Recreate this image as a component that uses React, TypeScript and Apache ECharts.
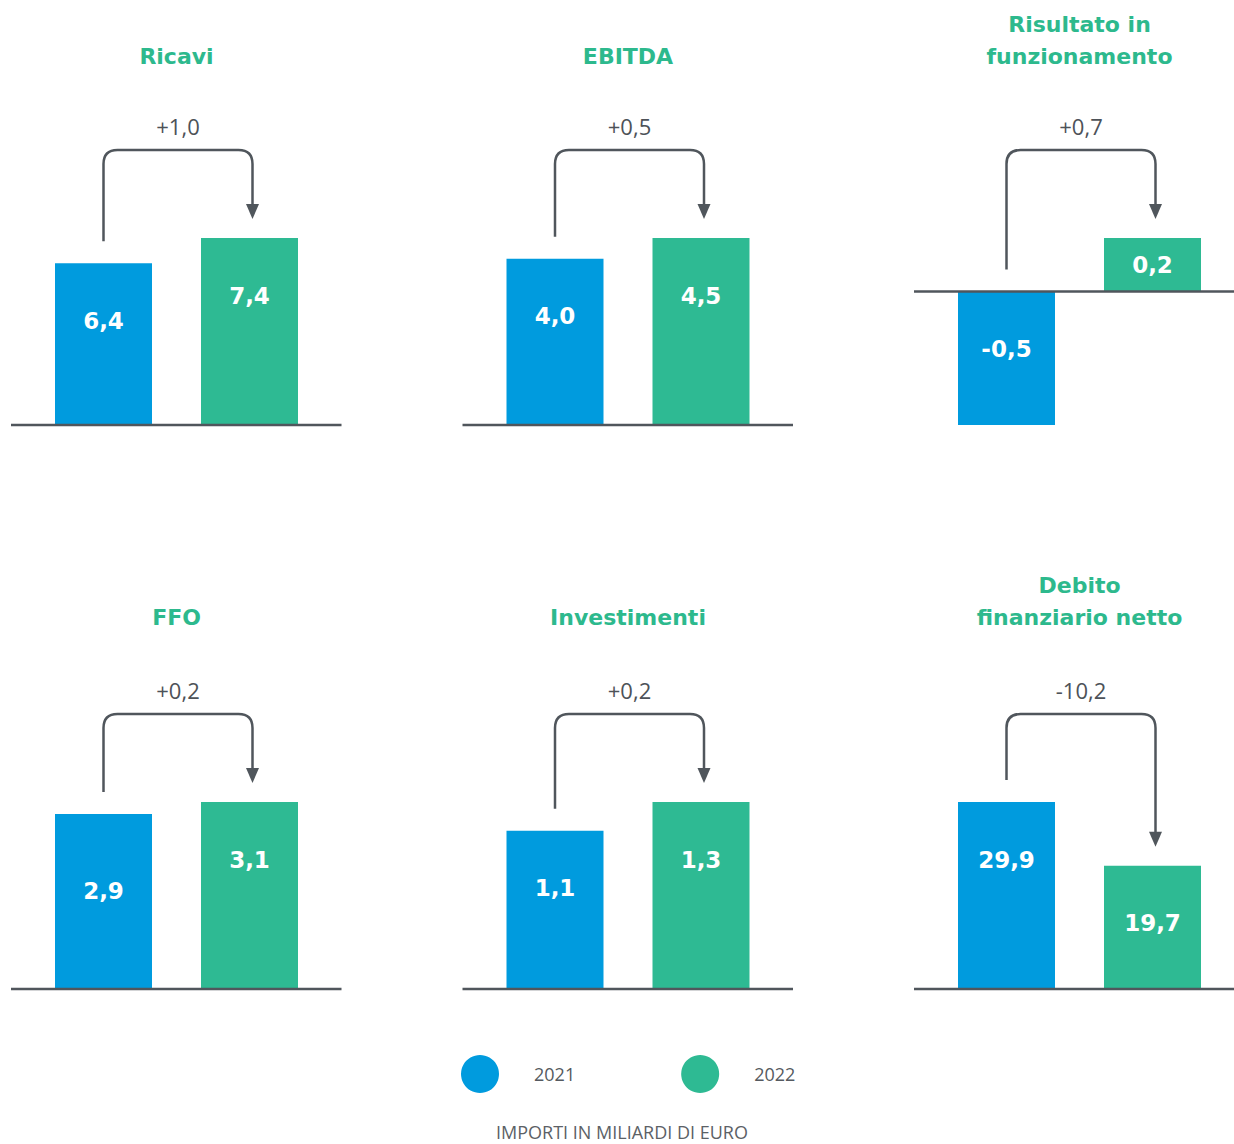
import React, { useEffect, useRef } from "react";
import * as echarts from "echarts";

// ---- data ----
const years = ["2021", "2022"];
const titles = [
  "Ricavi",
  "EBITDA",
  "Risultato in\nfunzionamento",
  "FFO",
  "Investimenti",
  "Debito\nfinanziario netto",
];
const values2021 = [6.4, 4.0, -0.5, 2.9, 1.1, 29.9];
const values2022 = [7.4, 4.5, 0.2, 3.1, 1.3, 19.7];
const deltas = ["+1,0", "+0,5", "+0,7", "+0,2", "+0,2", "-10,2"];
const unitNote = "IMPORTI IN MILIARDI DI EURO";

// ---- style / layout ----
const BLUE = "#009BDE";
const GREEN = "#2EBA93";
const TITLE_GREEN = "#2DB98D";
const DARK = "#50565C";
const FONT = "'Open Sans', 'Noto Sans', sans-serif";
const BOLD_FONT = "'DejaVu Sans', 'Open Sans', sans-serif";
const COLS = [176.5, 628, 1079.5];
const ROW_TOP = [238, 802];
const SPAN = 187;
const TITLE_Y = [56, 617];

const fmt = (v: number) => v.toFixed(1).replace(".", ",");

export default function App() {
  const ref = useRef<HTMLDivElement>(null);

  useEffect(() => {
    if (!ref.current) return;
    const chart = echarts.init(ref.current, undefined, { renderer: "svg" });

    const grids: any[] = [];
    const xAxes: any[] = [];
    const yAxes: any[] = [];
    const series: any[] = [];

    titles.forEach((_, i) => {
      const col = i % 3;
      const row = Math.floor(i / 3);
      const v1 = values2021[i];
      const v2 = values2022[i];
      grids.push({
        left: COLS[col] - 146,
        width: 292,
        top: ROW_TOP[row],
        height: SPAN,
        containLabel: false,
      });
      xAxes.push({
        type: "category",
        gridIndex: i,
        data: years,
        show: false,
      });
      yAxes.push({
        type: "value",
        gridIndex: i,
        min: Math.min(0, v1, v2),
        max: Math.max(0, v1, v2),
        show: false,
      });
      const baseLabel = {
        show: true,
        position: "insideTop",
        distance: 46,
        color: "#fff",
        fontSize: 23,
        fontWeight: "bold",
        fontFamily: BOLD_FONT,
        formatter: (p: any) => fmt(p.value),
      };
      const label1: any = { ...baseLabel };
      const label2: any = { ...baseLabel };
      if (i === 3) label1.distance = 65;
      if (i === 2) {
        label2.position = "inside";
      }
      series.push({
        type: "bar",
        name: years[0],
        xAxisIndex: i,
        yAxisIndex: i,
        barWidth: 97,
        barGap: "-100%",
        itemStyle: { color: BLUE },
        label: label1,
        data: [v1, "-"],
      });
      series.push({
        type: "bar",
        name: years[1],
        xAxisIndex: i,
        yAxisIndex: i,
        barWidth: 97,
        barGap: "-100%",
        itemStyle: { color: GREEN },
        label: label2,
        data: ["-", v2],
      });
      series.push({
        type: "custom",
        xAxisIndex: i,
        yAxisIndex: i,
        clip: false,
        silent: true,
        z: 5,
        encode: { x: 0, y: 1 },
        data: [[0, v1, v2]],
        renderItem: (params: any, api: any) => {
          const a = api.coord([0, Math.max(0, api.value(1))]);
          const b = api.coord([1, Math.max(0, api.value(2))]);
          const hy = params.coordSys.y - 88;
          const x1 = a[0];
          const x2 = b[0] + 3;
          const y1 = a[1] - 22;
          const tip = b[1] - 19;
          const r = 14;
          const ah = 15;
          const pathData =
            `M ${x1} ${y1} L ${x1} ${hy + r} Q ${x1} ${hy} ${x1 + r} ${hy} ` +
            `L ${x2 - r} ${hy} Q ${x2} ${hy} ${x2} ${hy + r} L ${x2} ${tip - ah + 2}`;
          return {
            type: "group",
            children: [
              {
                type: "path",
                shape: { pathData },
                style: { fill: "none", stroke: DARK, lineWidth: 2.5 },
              },
              {
                type: "polygon",
                shape: {
                  points: [
                    [x2 - 6.5, tip - ah],
                    [x2 + 6.5, tip - ah],
                    [x2, tip],
                  ],
                },
                style: { fill: DARK },
              },
              {
                type: "text",
                x: (x1 + x2) / 2,
                y: hy - 24,
                style: {
                  text: deltas[i],
                  fill: "#4D5258",
                  fontSize: 22,
                  fontFamily: FONT,
                  align: "center",
                  verticalAlign: "middle",
                },
              },
            ],
          };
        },
      });
    });

    chart.setOption({
      animation: false,
      backgroundColor: "#fff",
      grid: grids,
      xAxis: xAxes,
      yAxis: yAxes,
      series,
      legend: {
        data: years,
        icon: "circle",
        itemWidth: 38,
        itemHeight: 38,
        itemGap: 106,
        left: 461,
        top: 1055,
        padding: 0,
        selectedMode: false,
        textStyle: {
          color: "#555A60",
          fontSize: 18,
          fontFamily: FONT,
          padding: [0, 0, 0, 30],
        },
      },
    });

    const graphic: any[] = [];
    titles.forEach((t, i) => {
      const col = i % 3;
      const row = Math.floor(i / 3);
      const lines = t.split("\n").length;
      graphic.push({
        type: "text",
        x: COLS[col],
        y: TITLE_Y[row] - (lines - 1) * 16,
        style: {
          text: t,
          fill: TITLE_GREEN,
          fontSize: 22,
          fontWeight: "bold",
          fontFamily: BOLD_FONT,
          lineHeight: 32,
          align: "center",
          verticalAlign: "middle",
        },
      });
      const p = chart.convertToPixel({ xAxisIndex: i, yAxisIndex: i } as any, [0, 0]) as number[];
      graphic.push({
        type: "line",
        z: 10,
        shape: { x1: COLS[col] - 165.5, y1: p[1], x2: COLS[col] + 165, y2: p[1] },
        style: { stroke: DARK, lineWidth: 2.5 },
      });
    });
    graphic.push({
      type: "text",
      x: 622,
      y: 1132,
      style: {
        text: unitNote,
        fill: "#5C6166",
        fontSize: 18,
        fontFamily: FONT,
        align: "center",
        verticalAlign: "middle",
      },
    });
    chart.setOption({ graphic });

    return () => chart.dispose();
  }, []);

  return (
    <div
      ref={ref}
      style={{ position: "fixed", left: 0, top: 0, width: 1234, height: 1144 }}
    />
  );
}
